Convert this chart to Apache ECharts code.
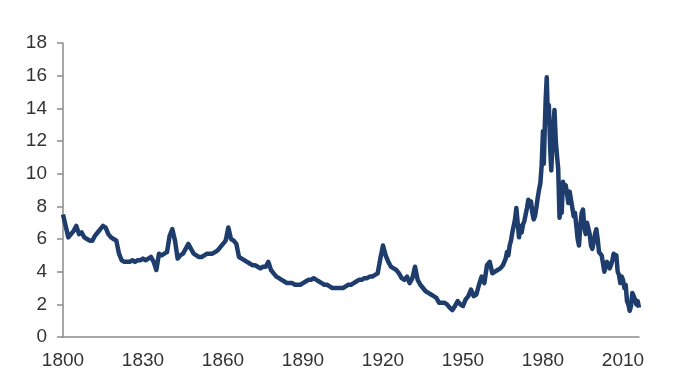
<!DOCTYPE html>
<html>
<head>
<meta charset="utf-8">
<script src="https://cdn.jsdelivr.net/npm/echarts@6/dist/echarts.min.js"></script>
<style>html,body{margin:0;padding:0;background:#fff}#c{width:696px;height:385px}</style>
</head>
<body>
<div id="c"></div>
<script>
// Years (annual, then half-yearly in the volatile period) and yield values
const years = [
  1800,1801,1802,1803,1804,1805,1806,1807,1808,1809,1810,1811,1812,1813,1814,1815,1816,1817,1818,1819,
  1820,1821,1822,1823,1824,1825,1826,1827,1828,1829,1830,1831,1832,1833,1834,1835,1836,1837,1838,1839,
  1840,1841,1842,1843,1844,1845,1846,1847,1848,1849,1850,1851,1852,1853,1854,1855,1856,1857,1858,1859,
  1860,1861,1862,1863,1864,1865,1866,1867,1868,1869,1870,1871,1872,1873,1874,1875,1876,1877,1878,1879,
  1880,1881,1882,1883,1884,1885,1886,1887,1888,1889,1890,1891,1892,1893,1894,1895,1896,1897,1898,1899,
  1900,1901,1902,1903,1904,1905,1906,1907,1908,1909,1910,1911,1912,1913,1914,1915,1916,1917,1918,1919,
  1920,1921,1922,1923,1924,1925,1926,1927,1928,1929,1930,1931,1932,1933,1934,1935,1936,1937,1938,1939,
  1940,1941,1942,1943,1944,1945,1946,1947,1948,1949,1950,1951,1952,1953,1954,1955,1956,1957,1958,1959,
  1960,1961,1962,1963,1964,1965,
  1966,1966.5,1967,1967.5,1968,1968.5,1969,1969.5,1970,1970.5,1971,1971.5,1972,1972.5,1973,1973.5,
  1974,1974.5,1975,1975.5,1976,1976.5,1977,1977.5,1978,1978.5,1979,1979.5,1980,1980.3,1980.7,1981,
  1981.4,1981.8,1982.2,1982.7,1983.1,1983.6,1984.3,1984.8,1985.3,1985.7,1986.2,1986.6,1987,1987.5,
  1988,1988.5,1989,1989.5,1990,1990.5,1991,1991.5,1992,1992.5,1993,1993.5,1994,1994.5,1995,1995.5,
  1996,1996.5,1997,1997.5,1998,1998.5,1999,1999.5,2000,2000.5,2001,2001.5,2002,2002.5,2003,2003.5,
  2004,2004.5,2005,2005.5,2006,2006.5,2007,2007.5,2008,2008.5,2009,2009.5,2010,2010.5,2011,2011.5,
  2012,2012.5,2013,2013.5,2014,2014.5,2015,2015.5,2016
];
const yields = [
  7.5,6.8,6.1,6.3,6.5,6.8,6.3,6.4,6.1,6.0,5.9,5.9,6.2,6.4,6.6,6.8,6.7,6.3,6.1,6.0,
  5.9,5.1,4.7,4.6,4.6,4.6,4.7,4.6,4.7,4.7,4.8,4.7,4.8,4.9,4.6,4.1,5.1,5.0,5.1,5.2,
  6.2,6.6,5.9,4.8,5.0,5.1,5.4,5.7,5.4,5.1,5.0,4.9,4.9,5.0,5.1,5.1,5.1,5.2,5.3,5.5,
  5.7,5.9,6.7,6.0,5.9,5.7,4.9,4.8,4.7,4.6,4.5,4.4,4.4,4.3,4.2,4.3,4.3,4.6,4.1,3.9,
  3.7,3.6,3.5,3.4,3.3,3.3,3.3,3.2,3.2,3.2,3.3,3.4,3.5,3.5,3.6,3.5,3.4,3.3,3.2,3.2,
  3.1,3.0,3.0,3.0,3.0,3.0,3.1,3.2,3.2,3.3,3.4,3.5,3.5,3.6,3.6,3.7,3.7,3.8,3.9,4.8,
  5.6,5.0,4.6,4.3,4.2,4.1,3.9,3.6,3.5,3.7,3.3,3.6,4.3,3.5,3.2,3.0,2.8,2.7,2.6,2.5,
  2.4,2.1,2.1,2.1,2.0,1.8,1.65,1.9,2.2,2.0,1.9,2.3,2.5,2.9,2.5,2.6,3.2,3.7,3.3,4.4,
  4.6,3.9,4.0,4.1,4.2,4.4,
  4.8,5.2,5.0,5.6,5.9,6.4,6.3,7.2,7.9,7.0,6.1,6.8,6.4,6.9,7.1,7.5,
  7.9,8.4,8.0,8.3,7.6,7.2,7.4,7.9,8.5,9.0,9.4,10.5,12.6,10.6,13.0,14.5,
  15.9,13.5,14.2,11.5,10.2,12.0,13.9,12.0,11.0,10.3,7.3,8.0,7.6,9.5,
  9.0,9.3,8.8,8.2,8.9,8.4,7.9,7.4,7.6,6.8,6.0,5.6,6.8,7.6,7.8,6.7,
  6.3,7.0,6.9,6.3,5.6,5.4,5.8,6.3,6.6,6.0,5.2,5.1,5.0,4.5,4.0,4.3,
  4.6,4.4,4.2,4.4,4.7,5.1,4.8,5.0,4.0,3.8,3.3,3.7,3.5,3.0,3.2,2.2,
  2.0,1.6,1.9,2.7,2.8,2.3,2.0,2.2,1.8
];
const xTickStart = 1800, xTickStep = 30;

const chart = echarts.init(document.getElementById('c'));
const labelStyle = { color: '#333333', fontSize: 19, fontFamily: 'Liberation Sans, Arial, sans-serif' };
chart.setOption({
  animation: false,
  grid: { left: 63, right: 57, top: 43, bottom: 48 },
  xAxis: {
    type: 'value', min: xTickStart, max: 2016, interval: xTickStep,
    axisLine: { show: true, lineStyle: { color: '#8a8a8a', width: 1.5 } },
    axisTick: { show: false },
    splitLine: { show: false },
    axisLabel: Object.assign({ margin: 14, showMaxLabel: false,
      formatter: v => ((v - xTickStart) % xTickStep === 0 ? String(v) : '') }, labelStyle)
  },
  yAxis: {
    type: 'value', min: 0, max: 18, interval: 2,
    axisLine: { show: true, lineStyle: { color: '#8a8a8a', width: 1.5 } },
    axisTick: { show: true, inside: false, length: 6, lineStyle: { color: '#8a8a8a', width: 1.5 } },
    splitLine: { show: false },
    axisLabel: Object.assign({ margin: 16 }, labelStyle)
  },
  series: [{
    type: 'line',
    data: years.map((y, i) => [y, yields[i]]),
    showSymbol: false,
    lineStyle: { color: '#1e3d6d', width: 4.5, join: 'round' },
    clip: false
  }]
});
</script>
</body>
</html>
